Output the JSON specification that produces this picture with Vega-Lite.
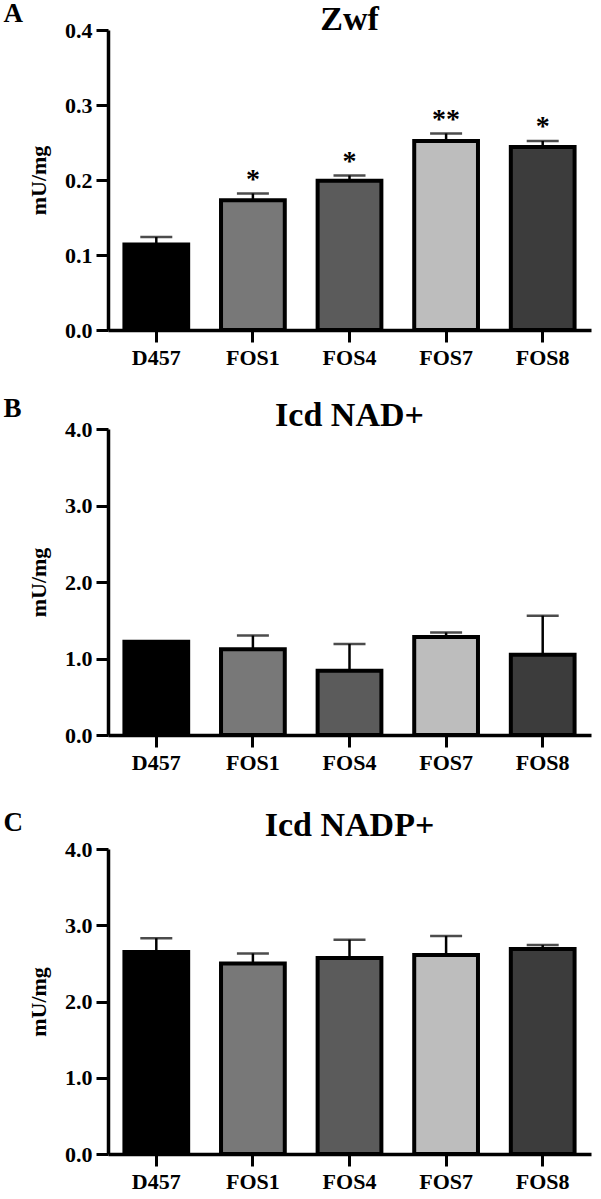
{
  "$schema": "https://vega.github.io/schema/vega-lite/v6.json",
  "padding": {"left": 3, "top": 0, "right": 5, "bottom": 3},
  "background": "white",
  "datasets": {
    "zwf": [
      {"strain": "D457", "mean": 0.114, "upper": 0.124, "sig": ""},
      {"strain": "FOS1", "mean": 0.173, "upper": 0.182, "sig": "*"},
      {"strain": "FOS4", "mean": 0.199, "upper": 0.206, "sig": "*"},
      {"strain": "FOS7", "mean": 0.252, "upper": 0.262, "sig": "**"},
      {"strain": "FOS8", "mean": 0.244, "upper": 0.252, "sig": "*"}
    ],
    "nad": [
      {"strain": "D457", "mean": 1.22, "upper": 1.22},
      {"strain": "FOS1", "mean": 1.12, "upper": 1.30},
      {"strain": "FOS4", "mean": 0.84, "upper": 1.19},
      {"strain": "FOS7", "mean": 1.28, "upper": 1.34},
      {"strain": "FOS8", "mean": 1.05, "upper": 1.56}
    ],
    "nadp": [
      {"strain": "D457", "mean": 2.65, "upper": 2.83},
      {"strain": "FOS1", "mean": 2.50, "upper": 2.63},
      {"strain": "FOS4", "mean": 2.57, "upper": 2.81},
      {"strain": "FOS7", "mean": 2.61, "upper": 2.86},
      {"strain": "FOS8", "mean": 2.69, "upper": 2.74}
    ]
  },
  "spacing": 27,
  "vconcat": [
    {
      "title": {"text": "A", "anchor": "start", "frame": "bounds", "fontSize": 27, "offset": -25, "dx": -24},
      "vconcat": [
        {
          "width": 483, "height": 300,
          "title": {"text": "Zwf", "offset": -18},
          "data": {"name": "zwf"},
          "encoding": {"x": {"field": "strain", "type": "nominal", "sort": null, "scale": {"paddingInner": 0.34, "paddingOuter": 0.17}, "axis": {"title": null, "labelAngle": 0}}},
          "layer": [
            {"mark": {"type": "bar", "stroke": "black", "strokeWidth": 4},
             "encoding": {"y": {"field": "mean", "type": "quantitative", "scale": {"domain": [0, 0.4]}, "axis": {"values": [0, 0.1, 0.2, 0.3, 0.4], "format": ".1f", "title": "mU/mg"}},
                          "fill": {"field": "strain", "type": "nominal", "scale": {"domain": ["D457", "FOS1", "FOS4", "FOS7", "FOS8"], "range": ["#000000", "#787878", "#5b5b5b", "#bdbdbd", "#3c3c3c"]}, "legend": null}}},
            {"mark": {"type": "rule", "strokeWidth": 2.5, "color": "black"},
             "encoding": {"y": {"field": "mean", "type": "quantitative"}, "y2": {"field": "upper"}}},
            {"mark": {"type": "tick", "thickness": 2.5, "size": 32, "color": "black"},
             "encoding": {"y": {"field": "upper", "type": "quantitative"}}},
            {"transform": [{"filter": "datum.sig != ''"}],
             "mark": {"type": "text", "baseline": "alphabetic", "dy": -6, "fontSize": 28, "fontWeight": "bold", "color": "black"},
             "encoding": {"y": {"field": "upper", "type": "quantitative"}, "text": {"field": "sig"}}}
          ]
        }
      ]
    },
    {
      "spacing": 36,
      "vconcat": [
        {
          "title": {"text": "B", "anchor": "start", "frame": "bounds", "fontSize": 27, "offset": -24, "dx": -24},
          "vconcat": [
            {
              "width": 483, "height": 306,
              "title": {"text": "Icd NAD+", "offset": -15},
              "data": {"name": "nad"},
              "encoding": {"x": {"field": "strain", "type": "nominal", "sort": null, "scale": {"paddingInner": 0.34, "paddingOuter": 0.17}, "axis": {"title": null, "labelAngle": 0}}},
              "layer": [
                {"mark": {"type": "bar", "stroke": "black", "strokeWidth": 4},
                 "encoding": {"y": {"field": "mean", "type": "quantitative", "scale": {"domain": [0, 4]}, "axis": {"values": [0, 1, 2, 3, 4], "format": ".1f", "title": "mU/mg"}},
                              "fill": {"field": "strain", "type": "nominal", "scale": {"domain": ["D457", "FOS1", "FOS4", "FOS7", "FOS8"], "range": ["#000000", "#787878", "#5b5b5b", "#bdbdbd", "#3c3c3c"]}, "legend": null}}},
                {"mark": {"type": "rule", "strokeWidth": 2.5, "color": "black"},
                 "encoding": {"y": {"field": "mean", "type": "quantitative"}, "y2": {"field": "upper"}}},
                {"mark": {"type": "tick", "thickness": 2.5, "size": 32, "color": "black"},
                 "encoding": {"y": {"field": "upper", "type": "quantitative"}}}
              ]
            }
          ]
        },
        {
          "title": {"text": "C", "anchor": "start", "frame": "bounds", "fontSize": 27, "offset": -28, "dx": -24},
          "vconcat": [
            {
              "width": 483, "height": 305,
              "title": {"text": "Icd NADP+", "offset": -5},
              "data": {"name": "nadp"},
              "encoding": {"x": {"field": "strain", "type": "nominal", "sort": null, "scale": {"paddingInner": 0.34, "paddingOuter": 0.17}, "axis": {"title": null, "labelAngle": 0}}},
              "layer": [
                {"mark": {"type": "bar", "stroke": "black", "strokeWidth": 4},
                 "encoding": {"y": {"field": "mean", "type": "quantitative", "scale": {"domain": [0, 4]}, "axis": {"values": [0, 1, 2, 3, 4], "format": ".1f", "title": "mU/mg"}},
                              "fill": {"field": "strain", "type": "nominal", "scale": {"domain": ["D457", "FOS1", "FOS4", "FOS7", "FOS8"], "range": ["#000000", "#787878", "#5b5b5b", "#bdbdbd", "#3c3c3c"]}, "legend": null}}},
                {"mark": {"type": "rule", "strokeWidth": 2.5, "color": "black"},
                 "encoding": {"y": {"field": "mean", "type": "quantitative"}, "y2": {"field": "upper"}}},
                {"mark": {"type": "tick", "thickness": 2.5, "size": 32, "color": "black"},
                 "encoding": {"y": {"field": "upper", "type": "quantitative"}}}
              ]
            }
          ]
        }
      ]
    }
  ],
  "resolve": {"scale": {"fill": "independent"}},
  "config": {
    "font": "Liberation Serif",
    "view": {"stroke": null},
    "axis": {"domainColor": "black", "domainWidth": 3.5, "tickColor": "black", "tickWidth": 3, "tickSize": 12, "labelFont": "Liberation Serif", "labelFontSize": 22, "labelFontWeight": "bold", "labelColor": "black", "labelPadding": 4, "titleFont": "Liberation Serif", "titleFontSize": 22, "titleFontWeight": "bold", "titleColor": "black", "grid": false},
    "axisY": {"titlePadding": 14},
    "axisX": {"labelPadding": 5},
    "title": {"fontSize": 34, "fontWeight": "bold", "color": "black", "font": "Liberation Serif", "baseline": "alphabetic"}
  }
}
